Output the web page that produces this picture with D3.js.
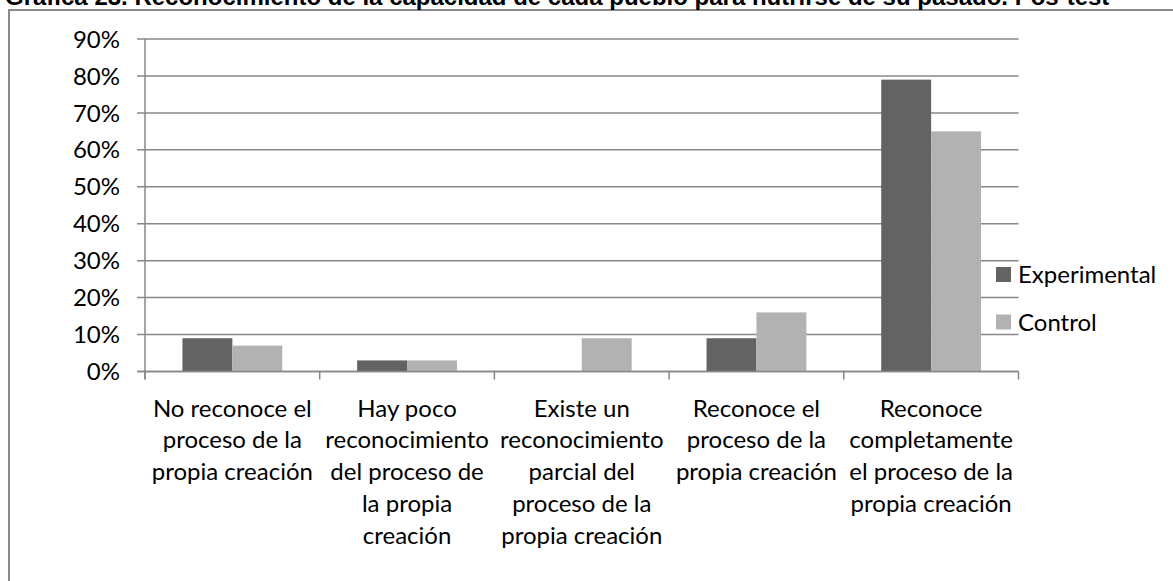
<!DOCTYPE html>
<html><head><meta charset="utf-8">
<script src="https://cdn.jsdelivr.net/npm/d3@7"></script>
<style>html,body{margin:0;padding:0;background:#fff;overflow:hidden}</style>
</head><body>
<svg id="c" width="1173" height="581"></svg>
<script>
const title = "Gráfica 23. Reconocimiento de la capacidad de cada pueblo para nutrirse de su pasado. Pos-test";
const categories = [
  ["No reconoce el", "proceso de la", "propia creación"],
  ["Hay poco", "reconocimiento", "del proceso de", "la propia", "creación"],
  ["Existe un", "reconocimiento", "parcial del", "proceso de la", "propia creación"],
  ["Reconoce el", "proceso de la", "propia creación"],
  ["Reconoce", "completamente", "el proceso de la", "propia creación"]
];
const seriesNames = ["Experimental", "Control"];
const experimental = [0.09, 0.03, 0.00, 0.09, 0.79];
const control = [0.07, 0.03, 0.09, 0.16, 0.65];
const colors = ["#636363", "#b2b2b2"];
const yTicks = [0, 0.1, 0.2, 0.3, 0.4, 0.5, 0.6, 0.7, 0.8, 0.9];

const svg = d3.select("#c");
const font = "Lato, 'Open Sans', sans-serif";
const gridColor = "#878787";

// outer frame
svg.append("rect").attr("x", 9).attr("y", 10).attr("width", 1200).attr("height", 600)
  .attr("fill", "none").attr("stroke", "#8a8a8a").attr("stroke-width", 2);

// title (cut at the top edge, as in the reference)
svg.append("text").attr("x", 5).attr("y", 5).text(title)
  .attr("font-family", "'Liberation Sans', Arial, sans-serif").attr("font-weight", "bold")
  .attr("font-size", 24).attr("fill", "#000");

const x0 = d3.scaleBand().domain(d3.range(categories.length)).range([145, 1018.5]).paddingInner(0).paddingOuter(0);
const x1 = d3.scaleBand().domain([0, 1]).range([0, x0.bandwidth()]).paddingInner(0).paddingOuter(0.75);
const y = d3.scaleLinear().domain([0, 0.9]).range([371.5, 39]);

// gridlines
svg.append("g").selectAll("line").data(yTicks).join("line")
  .attr("x1", 137).attr("x2", 1018.5)
  .attr("y1", d => y(d)).attr("y2", d => y(d))
  .attr("stroke", gridColor).attr("stroke-width", 1.5);

// y labels
svg.append("g").selectAll("text").data(yTicks).join("text")
  .attr("x", 120).attr("y", d => y(d)).attr("dy", "0.36em")
  .attr("text-anchor", "end").attr("font-family", font).attr("font-size", 24)
  .attr("fill", "#000").text(d => d3.format(".0%")(d));

// bars
const series = [experimental, control];
series.forEach((vals, si) => {
  svg.append("g").selectAll("rect").data(vals).join("rect")
    .attr("x", (d, i) => x0(i) + x1(si))
    .attr("width", x1.bandwidth())
    .attr("y", d => y(d))
    .attr("height", d => y(0) - y(d))
    .attr("fill", colors[si]);
});

// axes
svg.append("line").attr("x1", 145).attr("x2", 145).attr("y1", y(0.9)).attr("y2", y(0) + 8)
  .attr("stroke", gridColor).attr("stroke-width", 1.5);
svg.append("line").attr("x1", 137).attr("x2", 1018.5).attr("y1", y(0)).attr("y2", y(0))
  .attr("stroke", gridColor).attr("stroke-width", 1.5);
svg.append("g").selectAll("line").data(d3.range(categories.length + 1)).join("line")
  .attr("x1", i => 145 + i * x0.bandwidth()).attr("x2", i => 145 + i * x0.bandwidth())
  .attr("y1", y(0)).attr("y2", y(0) + 8)
  .attr("stroke", gridColor).attr("stroke-width", 1.5);

// category labels
const cg = svg.append("g").selectAll("text").data(categories).join("text")
  .attr("text-anchor", "middle").attr("font-family", font).attr("font-size", 24).attr("fill", "#000");
cg.each(function(lines, i) {
  d3.select(this).selectAll("tspan").data(lines).join("tspan")
    .attr("x", x0(i) + x0.bandwidth() / 2)
    .attr("y", (d, j) => 408 + j * 31.75)
    .attr("dy", "0.36em")
    .text(d => d);
});

// legend
const lg = svg.append("g").selectAll("g").data(seriesNames).join("g")
  .attr("transform", (d, i) => `translate(996, ${267 + i * 47.5})`);
lg.append("rect").attr("width", 15).attr("height", 15).attr("fill", (d, i) => colors[i]);
lg.append("text").attr("x", 22).attr("y", 7.5).attr("dy", "0.36em")
  .attr("font-family", font).attr("font-size", 24).attr("fill", "#000").text(d => d);
</script>
</body></html>
